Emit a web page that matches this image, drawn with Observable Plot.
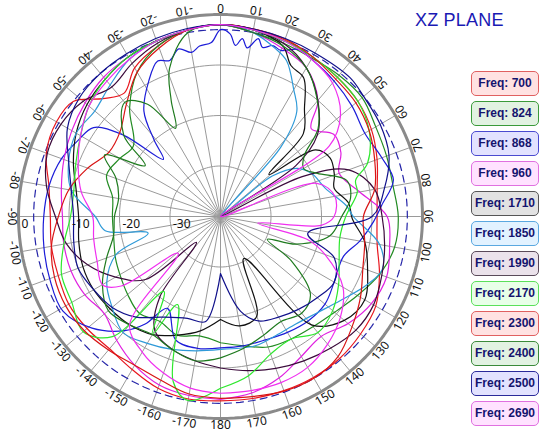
<!DOCTYPE html>
<html><head><meta charset="utf-8">
<script src="https://cdn.jsdelivr.net/npm/d3@7"></script>
<script src="https://cdn.jsdelivr.net/npm/@observablehq/plot@0.6"></script>
<style>
body{margin:0;background:#fff;font-family:"Liberation Sans",Arial,sans-serif}
#wrap{position:relative;width:558px;height:434px;overflow:hidden}
#title{position:absolute;left:415px;top:10px;font-size:18px;color:#1a1ab4;letter-spacing:0.2px}
.lg{position:absolute;left:471px;width:66px;height:23px;border:1px solid;border-radius:5px;box-sizing:content-box;
 font:bold 12px "Liberation Sans Narrow","Arial Narrow","Liberation Sans",sans-serif;color:#14146e;line-height:23px;text-align:center}
</style></head>
<body><div id="wrap"><div id="chart"></div><div id="title">XZ PLANE</div></div>
<script>
// ---- data: [angle (deg, clockwise from top), level (dB)] ----
const freqs = ["700","824","868","960","1710","1850","1990","2170","2300","2400","2500","2690"];
const lineColors = ["#e8161e","#228b22","#1c1cd8","#e020e0","#111111","#2f9ad8","#3b0a3b","#2ee82e","#d81414","#1e7a1e","#10108a","#f030f0"];
const boxBorders = ["#e06060","#3a9a3a","#4a4ad0","#e070e0","#555555","#5aa8e0","#5a4a5a","#5ae05a","#e06060","#3a8a3a","#2a2a9a","#e070e0"];
const boxFills = ["#ffe2e2","#e2f2e2","#e2e2ff","#ffe2ff","#e2e2e2","#e2f2ff","#ebe2eb","#e8ffe8","#ffe2e2","#e2f2e2","#e2e2ff","#ffe2ff"];
const ringLevels = [-30,-20,-10,0];
const refLevel = -3;
const angleLabels = [-170,-160,-150,-140,-130,-120,-110,-100,-90,-80,-70,-60,-50,-40,-30,-20,-10,0,10,20,30,40,50,60,70,80,90,100,110,120,130,140,150,160,170,180];

const f700 = [[-180,-3.5],[-170,-3.3],[-160,-3.8],[-150,-5],[-140,-5.8],[-130,-5.5],[-120,-5.3],[-110,-5.8],[-100,-6],[-90,-6.3],[-80,-5.5],[-70,-3.3],[-60,-2.5],[-52,-3],[-45,-7],[-38,-9],[-30,-6],[-20,-4],[-10,-2.5],[0,-2],[10,-2.3],[20,-2.8],[30,-3.5],[40,-4],[50,-4.5],[60,-5.5],[70,-7],[80,-8.5],[90,-9],[100,-8.5],[110,-6.5],[120,-4.5],[130,-3.8],[140,-3.3],[150,-3.2],[160,-3.3],[170,-3.4],[180,-3.5]];
const f824 = [[-180,-15],[-170,-16],[-160,-15],[-150,-16],[-140,-15],[-130,-16],[-120,-17],[-112,-17.6],[-100,-18.5],[-90,-18.6],[-80,-18.3],[-70,-16],[-60,-17],[-51,-17.8],[-40,-12],[-30,-7],[-20,-4],[-10,-2.5],[0,-2],[10,-3],[20,-3.5],[30,-3.8],[40,-3.5],[50,-3.4],[60,-4.5],[70,-5],[80,-5.3],[90,-4.8],[100,-5],[110,-6.5],[120,-8.7],[130,-10.5],[140,-11.5],[150,-12],[160,-12.5],[170,-14],[180,-15]];
const f868 = [[-180,-14],[-170,-13.5],[-160,-14],[-150,-19],[-145,-14],[-140,-10.5],[-131,-6.3],[-121,-3.6],[-110,-4],[-100,-4.5],[-90,-5],[-80,-5.5],[-70,-6.5],[-62,-8],[-55,-9.3],[-50,-15],[-45,-24],[-41,-20],[-36,-14.2],[-28,-9.7],[-22,-6.8],[-18,-7.5],[-14,-5.8],[-10,-7],[-7,-6],[-3,-5.5],[0,-3],[3,-3.8],[5,-6],[7,-4.5],[9,-6.2],[12,-4],[14,-5.5],[17,-4.6],[20,-5],[25,-3.5],[30,-4],[40,-5],[50,-6],[60,-7],[70,-6],[78,-5],[86,-8],[92,-9.7],[100,-12],[108,-14.4],[120,-14],[130,-13],[140,-13],[150,-13.5],[160,-14],[170,-14],[180,-14]];
const f960 = [[-180,-3.8],[-170,-4],[-160,-4.5],[-150,-6],[-140,-8],[-130,-10],[-120,-9],[-110,-8.5],[-100,-8.5],[-90,-8.7],[-80,-8],[-70,-7],[-60,-6],[-50,-5],[-40,-4],[-30,-3.5],[-20,-3],[-10,-2.5],[0,-2],[10,-3],[20,-4.5],[30,-6],[40,-10],[46,-15],[54,-12.3],[62,-13],[70,-15],[80,-12],[90,-7],[100,-6],[110,-5],[120,-5.5],[130,-7],[140,-9],[150,-8],[160,-6],[170,-4.5],[180,-3.8]];
const f1710 = [[-180,-19.6],[-170,-17],[-160,-15],[-150,-13],[-140,-12],[-130,-11.5],[-120,-11],[-110,-11],[-100,-11.5],[-90,-11.9],[-80,-11],[-70,-9],[-60,-7],[-50,-5.5],[-40,-4.5],[-30,-3.5],[-20,-3],[-10,-2.5],[0,-2],[10,-2.5],[20,-4],[25,-7],[31,-8],[38,-13],[45,-16.8],[49,-27.3],[55,-17],[62,-15.4],[70,-16],[76,-16.8],[84,-14.5],[91,-13.9],[100,-11],[110,-9],[120,-7],[130,-8],[140,-12],[151,-30.5],[160,-19],[170,-18],[180,-19.6]];
const f1850 = [[-180,-13.7],[-170,-13],[-160,-12],[-150,-11],[-140,-10],[-130,-12],[-120,-14],[-110,-18],[-103,-25.3],[-97,-17],[-90,-15.2],[-80,-10],[-70,-8],[-60,-7],[-50,-7.5],[-40,-6],[-30,-4],[-20,-3],[-10,-2.5],[0,-2],[10,-3],[18,-5],[23,-6.5],[30,-11],[36,-14.3],[41,-21.8],[47,-40],[52,-27],[58,-22],[65,-20],[75,-18.5],[85,-15],[90,-13.7],[100,-8],[108,-6.3],[115,-8],[125,-11],[135,-13],[145,-14],[155,-14],[165,-13.5],[180,-13.7]];
const f1990 = [[-180,-10],[-170,-11],[-160,-12],[-150,-14],[-143,-20],[-137,-33],[-130,-20.6],[-120,-16],[-110,-12],[-100,-9],[-90,-7.3],[-80,-5],[-70,-3.5],[-60,-3.5],[-50,-4.5],[-40,-6.5],[-30,-5],[-20,-3.5],[-10,-2.5],[0,-2],[10,-2.5],[20,-3.5],[30,-6],[40,-10],[50,-15],[56,-22],[60,-40],[64,-22],[70,-13],[80,-9],[90,-8],[100,-7],[110,-6],[120,-5],[130,-5],[140,-6],[150,-7],[160,-8],[170,-9],[180,-10]];
const f2170 = [[-180,-6],[-170,-3],[-164,-6],[-154,-20.6],[-150,-13],[-143,-21.4],[-138,-8],[-130,-4.5],[-120,-6],[-110,-6.5],[-100,-8.5],[-90,-10.3],[-80,-10.5],[-70,-9.5],[-60,-8],[-50,-6],[-40,-4.5],[-30,-3.5],[-20,-3],[-10,-2.5],[0,-2],[10,-2.5],[20,-3],[30,-3.5],[40,-4],[50,-4.5],[60,-6],[70,-9],[75,-12.3],[80,-12.5],[90,-15.2],[100,-16],[110,-15],[120,-13],[130,-11],[140,-10],[150,-12],[160,-11],[170,-8],[180,-6]];
const f2300 = [[-180,-4],[-170,-4.3],[-160,-5.5],[-150,-6],[-140,-5.5],[-130,-4.8],[-120,-4.6],[-110,-5],[-100,-6],[-90,-7.9],[-80,-9.5],[-70,-12],[-60,-14.5],[-50,-14],[-40,-11],[-30,-7],[-20,-4.5],[-10,-2.5],[0,-2],[10,-2.3],[20,-2.6],[30,-3.5],[40,-4.5],[50,-5],[60,-6],[70,-7.5],[80,-9],[90,-11.7],[100,-11],[110,-10],[120,-8],[130,-6],[140,-3.8],[150,-3],[160,-3.2],[170,-3.8],[180,-4]];
const f2400 = [[-180,-12],[-170,-11],[-160,-12],[-150,-13],[-140,-12],[-130,-11],[-120,-13],[-110,-16],[-100,-18.5],[-90,-19],[-80,-19.5],[-70,-18],[-62,-14],[-56,-22],[-50,-15],[-40,-10.5],[-33,-13.5],[-27,-20.4],[-23,-15],[-19,-9],[-10,-3],[0,-2],[10,-3],[20,-4],[30,-6],[39,-9.7],[48,-14],[54,-19.5],[60,-21],[66,-19],[74,-14],[82,-14],[90,-16],[100,-18],[110,-24],[116,-29.7],[122,-23.5],[131,-16.4],[140,-15],[150,-16],[160,-15],[170,-13.5],[180,-12]];
const f2500 = [[-180,-28.7],[-172,-19],[-162,-18.8],[-150,-17],[-140,-14],[-130,-12],[-120,-11],[-110,-10],[-100,-10.5],[-90,-10.9],[-80,-10],[-70,-8],[-60,-5],[-50,-3.5],[-40,-3],[-30,-2.8],[-20,-2.5],[-10,-2.2],[0,-2],[10,-2.3],[20,-2.5],[30,-2.6],[43,-2.4],[50,-3],[60,-3.5],[70,-4.5],[80,-7],[90,-10],[101,-22.4],[110,-16],[120,-14],[130,-15],[140,-16],[150,-17],[160,-18],[168,-20.8],[180,-28.7]];
const f2690 = [[-180,-5],[-170,-5.5],[-160,-7],[-150,-9],[-140,-12],[-131,-28.9],[-125,-16],[-120,-13],[-110,-14],[-100,-14.5],[-90,-14.7],[-80,-12],[-70,-10],[-60,-8],[-50,-6],[-40,-5],[-30,-4],[-20,-3],[-10,-2.5],[0,-2],[10,-2.5],[20,-3],[30,-4],[40,-5.5],[50,-9],[57,-14.3],[62,-40],[71,-19.8],[80,-17],[90,-17.5],[95,-20],[100,-32.5],[105,-22],[110,-18],[120,-12],[130,-9],[140,-7],[150,-5.5],[160,-5],[170,-5],[180,-5]];
const series = [f700,f824,f868,f960,f1710,f1850,f1990,f2170,f2300,f2400,f2500,f2690];

// ---- geometry ----
const FLOOR = -40;               // centre of the chart (dB)
const W = 558, H = 434, CX = 220, CY = 216, RPX = 202;
const k = RPX / (0 - FLOOR);     // pixels per dB
const rad = d => Math.max(0, d - FLOOR);
const px = (a, d) => rad(d) * Math.sin(a * Math.PI / 180);
const py = (a, d) => rad(d) * Math.cos(a * Math.PI / 180);

const rows = [];
series.forEach((s, i) => s.forEach(([a, d]) => rows.push({freq: freqs[i], a, d})));

const circle = d3.range(0, 361, 2);
const rings = ringLevels.flatMap(l => circle.map(a => ({l, a})));
const refRing = circle.map(a => ({a, d: refLevel}));
const spokes = d3.range(0, 360, 10);

const chart = Plot.plot({
  width: W, height: H, margin: 0,
  x: {domain: [-CX / k, (W - CX) / k], axis: null},
  y: {domain: [-(H - CY) / k, CY / k], axis: null},
  color: {domain: freqs, range: lineColors},
  style: {background: "#fff"},
  marks: [
    Plot.link(spokes, {x1: 0, y1: 0, x2: a => px(a, 0), y2: a => py(a, 0), stroke: "#9a9a9a", strokeWidth: 1}),
    Plot.line(rings.filter(r => r.l < 0), {x: r => px(r.a, r.l), y: r => py(r.a, r.l), z: "l", stroke: "#9a9a9a", strokeWidth: 1}),
    Plot.line(refRing, {x: r => px(r.a, r.d), y: r => py(r.a, r.d), stroke: "#2424a8", strokeWidth: 1.2, strokeDasharray: "7,5"}),
    Plot.line(rows, {x: r => px(r.a, r.d), y: r => py(r.a, r.d), z: "freq", stroke: "freq", strokeWidth: 1.2, curve: "catmull-rom"}),
    Plot.line(rings.filter(r => r.l === 0), {x: r => px(r.a, r.l), y: r => py(r.a, r.l), stroke: "#8a8a8a", strokeWidth: 3}),
    Plot.text(ringLevels, {x: l => px(-90, l), y: 0, text: l => String(l), textAnchor: "start", lineAnchor: "top", dx: 3, dy: 3, fontSize: 12, fill: "#111"}),
    Plot.text(angleLabels, {x: a => px(a, 1.4), y: a => py(a, 1.4), text: a => String(a), rotate: a => a + 180, fontSize: 12, fill: "#111"})
  ]
});
document.getElementById("chart").appendChild(chart);

const wrap = document.getElementById("wrap");
freqs.forEach((f, i) => {
  const b = document.createElement("div");
  b.className = "lg";
  b.style.top = (71 + 30 * i) + "px";
  b.style.borderColor = boxBorders[i];
  b.style.background = boxFills[i];
  b.textContent = "Freq: " + f;
  wrap.appendChild(b);
});
</script></body></html>
